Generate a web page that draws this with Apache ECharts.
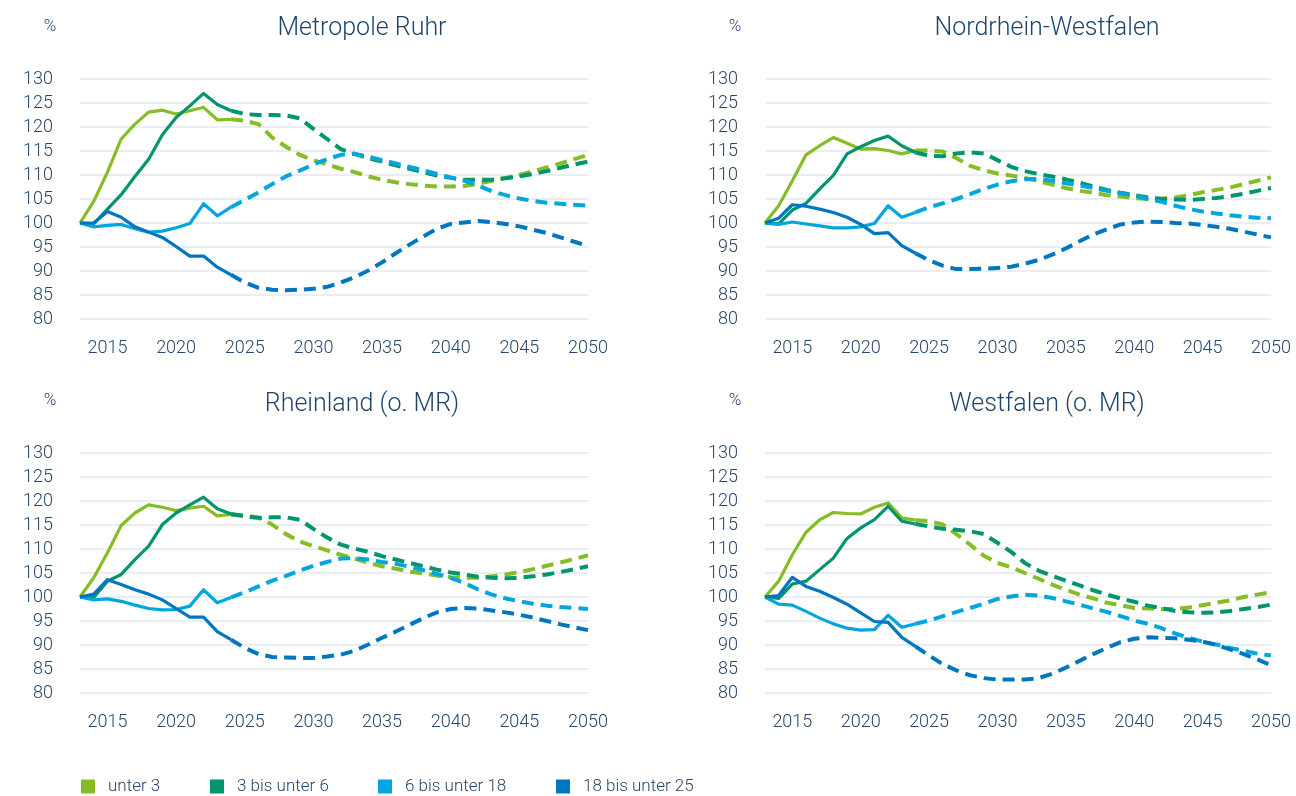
<!DOCTYPE html>
<html>
<head>
<meta charset="utf-8">
<script src="https://cdn.jsdelivr.net/npm/echarts@6/dist/echarts.min.js"></script>
<style>
html,body{margin:0;padding:0;background:#fff;}
#chart{width:1296px;height:796px;}
</style>
</head>
<body>
<div id="chart"></div>
<script>
// Years 2013 .. 2050 (index 11 = 2024 = last observed year)
const years = [2013,2014,2015,2016,2017,2018,2019,2020,2021,2022,2023,2024,2025,2026,2027,2028,2029,2030,2031,2032,2033,2034,2035,2036,2037,2038,2039,2040,2041,2042,2043,2044,2045,2046,2047,2048,2049,2050];
const lastObservedYear = 2024;
const seriesNames = ['unter 3', '3 bis unter 6', '6 bis unter 18', '18 bis unter 25'];
const panelTitles = ['Metropole Ruhr', 'Nordrhein-Westfalen', 'Rheinland (o. MR)', 'Westfalen (o. MR)'];
const yTicks = [80, 130, 5]; // min, max, step

// Metropole Ruhr
const mrUnter3 = [100,104.5,110.6,117.5,120.6,123.1,123.5,122.7,123.4,124.1,121.5,121.6, 121.3,120.6,117.8,115.9,114.2,113.1,112.2,111.3,110.6,109.7, 109.0,108.5,108.1,107.8,107.6,107.6,107.7,108.2, 108.8,109.4,110.0,110.8,111.6,112.4,113.3,114.2];
const mr3bis6 = [100,99.8,102.9,105.9,109.7,113.3,118.4,122.0,124.4,127.0,124.7,123.4, 122.7,122.5,122.5,122.4,121.8,119.6,117.5,115.4,114.4,113.5, 112.8,112.0,111.3,110.6,109.9,109.4,109.0,109.0, 109.0,109.3,109.7,110.2,110.8,111.5,112.2,112.8];
const mr6bis18 = [100,99.2,99.5,99.7,98.8,98.1,98.3,99.0,99.9,104.0,101.5,103.3, 104.8,106.4,108.1,109.7,110.9,112.2,113.3,114.2,114.4,113.8, 113.1,112.4,111.7,111.0,110.2,109.5,108.8,107.8, 106.6,105.8,105.1,104.6,104.2,104.0,103.8,103.6];
const mr18bis25 = [100,100.0,102.4,101.2,99.2,98.1,97.0,95.1,93.1,93.1,90.8,89.2, 87.6,86.5,86.1,86.0,86.1,86.3,86.7,87.6,88.7,90.1, 91.8,93.7,95.5,97.2,98.8,99.8,100.1,100.4, 100.2,99.8,99.3,98.6,97.9,97.0,96.1,95.2];

// Nordrhein-Westfalen
const nrwUnter3 = [100,103.6,108.8,114.2,116.1,117.8,116.6,115.4,115.5,115.1,114.4,115.1, 115.1,114.9,113.5,111.9,111.0,110.3,109.9,109.4,108.7,108.0, 107.3,106.7,106.3,105.8,105.5,105.2,105.0,105.1, 105.3,105.8,106.4,106.9,107.4,108.1,108.8,109.5];
const nrw3bis6 = [100,99.8,102.7,104.1,107.1,109.9,114.4,115.9,117.2,118.1,116.1,114.7, 114.0,113.9,114.5,114.7,114.5,113.1,111.7,110.8,110.2,109.7, 109.1,108.4,107.6,106.9,106.3,105.8,105.3,105.0, 104.9,104.8,105.0,105.2,105.6,106.1,106.7,107.3];
const nrw6bis18 = [100,99.7,100.2,99.8,99.4,99.0,99.0,99.2,99.9,103.6,101.2,102.2, 103.3,104.1,105.0,106.0,107.1,108.0,108.7,109.1,109.2,108.8, 108.3,107.8,107.3,106.7,106.2,105.7,105.0,104.4, 103.6,102.9,102.4,102.0,101.6,101.3,101.1,101.0];
const nrw18bis25 = [100,101.0,103.8,103.5,102.9,102.2,101.2,99.7,97.8,98.0,95.3,93.7, 92.2,91.1,90.4,90.4,90.5,90.6,90.9,91.5,92.3,93.4, 94.7,96.2,97.6,98.7,99.7,100.1,100.3,100.2, 100.0,99.9,99.6,99.2,98.8,98.2,97.6,97.0];

// Rheinland (o. MR)
const rhUnter3 = [100,104.0,109.2,114.9,117.5,119.2,118.7,118.0,118.5,118.9,116.9,117.2, 117.0,116.5,115.1,113.1,111.6,110.6,109.7,108.8,108.0,107.1, 106.4,105.9,105.3,104.9,104.5,104.1,104.0,104.0, 104.3,104.7,105.2,105.8,106.5,107.2,107.9,108.7];
const rh3bis6 = [100,99.9,103.3,104.7,107.8,110.6,115.1,117.5,119.2,120.8,118.4,117.3, 116.8,116.5,116.6,116.6,116.1,114.2,112.4,110.9,110.1,109.4, 108.5,107.8,107.1,106.4,105.7,105.1,104.7,104.2, 104.0,103.9,104.0,104.3,104.7,105.2,105.8,106.4];
const rh6bis18 = [100,99.4,99.6,99.1,98.3,97.6,97.3,97.4,98.1,101.5,98.8,99.9, 101.0,102.2,103.4,104.4,105.5,106.5,107.3,108.0,108.1,107.8, 107.3,106.9,106.3,105.6,104.8,104.0,102.9,101.6, 100.5,99.7,99.1,98.6,98.2,97.9,97.7,97.5];
const rh18bis25 = [100,100.6,103.6,102.6,101.5,100.6,99.4,97.6,95.8,95.8,92.8,91.1, 89.4,88.1,87.5,87.4,87.3,87.3,87.6,88.0,88.8,90.1, 91.5,92.8,94.2,95.6,96.8,97.5,97.7,97.6, 97.2,96.8,96.3,95.7,95.0,94.3,93.7,93.1];

// Westfalen (o. MR)
const wfUnter3 = [100,103.3,108.8,113.5,116.1,117.6,117.4,117.3,118.7,119.6,116.5,116.0, 115.8,115.1,113.1,110.9,108.6,107.1,106.2,105.0,103.8,102.6, 101.5,100.5,99.7,98.8,98.3,97.7,97.6,97.5, 97.5,97.8,98.3,98.8,99.3,100.0,100.5,101.0];
const wf3bis6 = [100,99.7,102.7,103.3,105.7,108.1,112.2,114.4,116.1,118.9,115.8,115.2, 114.7,114.2,114.0,113.7,113.1,111.3,109.4,107.1,105.5,104.4, 103.4,102.4,101.4,100.5,99.7,99.0,98.2,97.7, 97.1,96.8,96.7,96.8,97.1,97.5,97.9,98.4];
const wf6bis18 = [100,98.5,98.3,97.0,95.6,94.4,93.5,93.1,93.2,96.2,93.7,94.4, 95.1,96.0,96.9,97.7,98.6,99.6,100.1,100.5,100.3,99.8, 99.1,98.4,97.6,96.9,96.0,95.1,94.4,93.5, 92.4,91.5,90.7,90.1,89.4,88.8,88.2,87.8];
const wf18bis25 = [100,100.3,104.1,102.2,101.2,99.9,98.5,96.7,94.9,94.7,91.6,89.7, 87.8,86.0,84.7,83.7,83.1,82.8,82.8,82.8,83.1,84.0, 85.3,86.7,88.1,89.4,90.6,91.3,91.6,91.5, 91.4,91.1,90.7,90.0,89.1,88.1,87.0,85.8];

const panelData = [
  [mrUnter3, mr3bis6, mr6bis18, mr18bis25],
  [nrwUnter3, nrw3bis6, nrw6bis18, nrw18bis25],
  [rhUnter3, rh3bis6, rh6bis18, rh18bis25],
  [wfUnter3, wf3bis6, wf6bis18, wf18bis25]
];

const colors = ['#86bc25', '#00956e', '#00a7de', '#0076c0'];
const textColor = '#27476b';
const titleColor = '#1f4469';
const FONT = 'Roboto, "Liberation Sans", sans-serif';

const grids = [
  {left: 80, top: 79, width: 508, height: 240},
  {left: 765, top: 79, width: 506, height: 240},
  {left: 80, top: 453, width: 508, height: 240},
  {left: 765, top: 453, width: 506, height: 240}
];
const titlePos = [
  {x: 357, y: 11, px: 45, py: 13},
  {x: 1042, y: 11, px: 730, py: 13},
  {x: 357, y: 387, px: 45, py: 387},
  {x: 1042, y: 387, px: 730, py: 387}
];

const cats = years.map(String);
const cut = years.indexOf(lastObservedYear);

const xAxes = [], yAxes = [], series = [], titles = [];
grids.forEach((g, gi) => {
  xAxes.push({
    type: 'category', gridIndex: gi, data: cats, boundaryGap: false,
    axisLine: {show: false}, axisTick: {show: false}, splitLine: {show: false},
    axisLabel: {
      interval: (idx, val) => Number(val) % 5 === 0,
      color: textColor, fontFamily: FONT, fontSize: 18, fontWeight: 300, margin: 20
    }
  });
  yAxes.push({
    type: 'value', gridIndex: gi, min: yTicks[0], max: yTicks[1], interval: yTicks[2],
    axisLine: {show: false}, axisTick: {show: false},
    splitLine: {lineStyle: {color: '#e3e7ec', width: 1.6}},
    axisLabel: {color: textColor, fontFamily: FONT, fontSize: 18, fontWeight: 300, margin: 27}
  });
  titles.push({
    text: panelTitles[gi], left: titlePos[gi].x, top: titlePos[gi].y, textAlign: 'center',
    textStyle: {color: titleColor, fontFamily: FONT, fontSize: 25, fontWeight: 300}
  });
  titles.push({
    text: '%', left: titlePos[gi].px, top: titlePos[gi].py, textAlign: 'center',
    textStyle: {color: textColor, fontFamily: FONT, fontSize: 17, fontWeight: 300}
  });
  panelData[gi].forEach((vals, si) => {
    series.push({
      name: seriesNames[si], type: 'line', xAxisIndex: gi, yAxisIndex: gi,
      data: vals.map((v, i) => i <= cut ? v : null),
      symbol: 'none', showSymbol: false, connectNulls: false,
      itemStyle: {color: colors[si]},
      lineStyle: {color: colors[si], width: 3.2, join: 'round'},
      z: 3
    });
    series.push({
      name: seriesNames[si], type: 'line', xAxisIndex: gi, yAxisIndex: gi,
      data: vals.map((v, i) => i >= cut ? v : null),
      symbol: 'none', showSymbol: false, connectNulls: false,
      itemStyle: {color: colors[si]},
      lineStyle: {color: colors[si], width: 4, type: [12, 7]},
      z: 2
    });
  });
});

const legendLeft = [81, 210, 378, 556];
const legends = seriesNames.map((n, i) => ({
  data: [n], left: legendLeft[i], top: 778, padding: 0, icon: 'rect', itemWidth: 14, itemHeight: 14,
  itemGap: 0, selectedMode: false,
  textStyle: {color: textColor, fontFamily: FONT, fontSize: 17, fontWeight: 300, padding: [0, 0, 0, 8]}
}));

const chart = echarts.init(document.getElementById('chart'), null, {renderer: 'canvas'});
chart.setOption({
  animation: false,
  backgroundColor: '#ffffff',
  title: titles,
  legend: legends,
  grid: grids,
  xAxis: xAxes,
  yAxis: yAxes,
  series: series
});
</script>
</body>
</html>
